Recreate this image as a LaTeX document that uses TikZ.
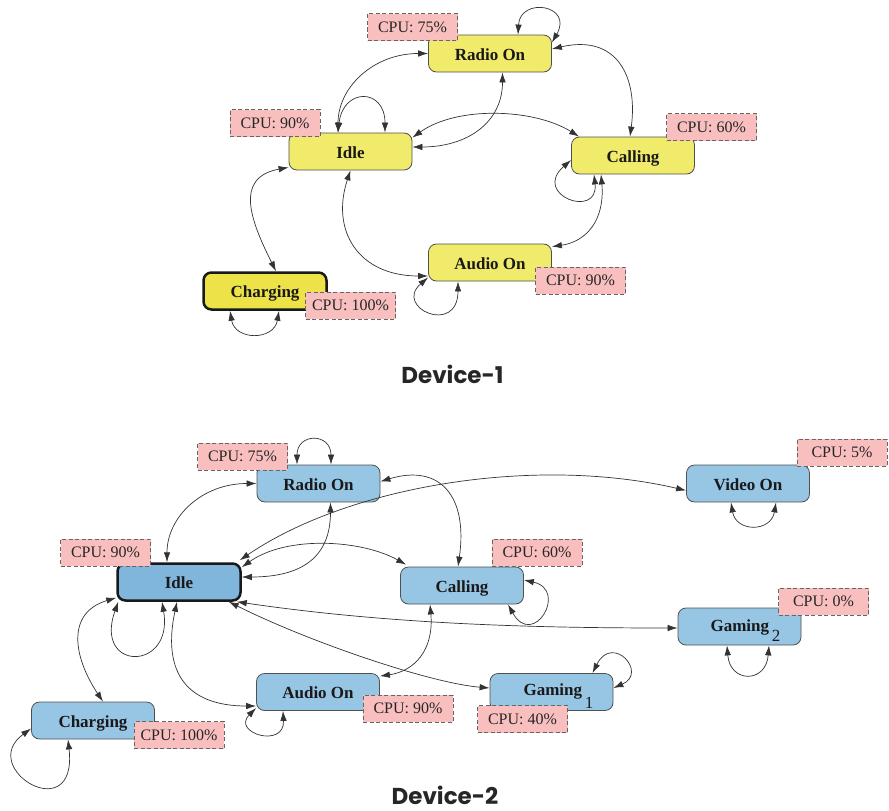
\documentclass[tikz,border=0pt]{standalone}
\usepackage{fontspec}
\setmainfont{Liberation Serif}
\newfontfamily\titlefont{Poppins}
\usetikzlibrary{arrows.meta}
\definecolor{ylw}{HTML}{F0EB6A}
\definecolor{ylwdark}{HTML}{EDE247}
\definecolor{blu}{HTML}{97C6E5}
\definecolor{bludark}{HTML}{80B5DC}
\definecolor{pnk}{HTML}{F9BFBF}
\definecolor{lblborder}{HTML}{666666}
\definecolor{nodeborder}{HTML}{505050}
\begin{document}
\begin{tikzpicture}[x=1pt,y=-1pt,
  state/.style={draw=nodeborder, line width=0.8pt, rounded corners=8pt,
    minimum width=123pt, minimum height=37pt, inner sep=0pt,
    text height=14.5pt, text depth=1.5pt,
    font=\fontsize{17}{20}\selectfont\bfseries, text=black!90},
  ystate/.style={state, fill=ylw},
  bstate/.style={state, fill=blu},
  heavy/.style={draw=black!90, line width=2.5pt},
  cpu/.style={draw=lblborder, fill=pnk, line width=0.8pt, dash pattern=on 4pt off 2.5pt,
    minimum width=90pt, minimum height=27pt, inner sep=0pt,
    font=\fontsize{16}{19}\selectfont, text=black!85},
  arr/.style={draw=black!80, line width=0.7pt,
    {Latex[length=10pt,width=6.5pt]}-{Latex[length=10pt,width=6.5pt]}},
  title/.style={font=\titlefont\bfseries\fontsize{23}{28}\selectfont, text=black!85, anchor=base}
]
\useasboundingbox (0,0) rectangle (889,811);

% ---------------- Device-1 ----------------
\node[ystate] (r1) at (490,53.5) {Radio On};
\node[ystate] (i1) at (350.5,151.5) {Idle};
\node[ystate] (c1) at (633,155.5) {Calling};
\node[ystate] (a1) at (490,262.5) {Audio On};
\node[ystate, heavy, fill=ylwdark] (ch1) at (265,291) {Charging};

\draw[arr] ([xshift=28pt]r1.north) .. controls +(2,-38) and +(22,-38) .. ([yshift=-8pt]r1.north east);
\draw[arr] (r1.west) .. controls +(-55,0) and +(0,-45) .. ([xshift=-12.5pt]i1.north);
\draw[arr] ([xshift=-12.5pt]i1.north) .. controls +(5,-45) and +(0,-45) .. ([xshift=34.5pt]i1.north);
\draw[arr] ([xshift=12.5pt]r1.south) .. controls +(0,50) and +(55,0) .. ([yshift=4.5pt]i1.east);
\draw[arr] ([yshift=-5pt]i1.north east) .. controls +(45,-32) and +(-45,-28) .. ([xshift=8pt]c1.north west);
\draw[arr] ([yshift=4.5pt]r1.east) .. controls +(65,-15) and +(8,-60) .. ([xshift=-3pt]c1.north);
\draw[arr] ([yshift=-4.5pt]c1.west) .. controls +(-40,35) and +(5,45) .. ([xshift=-39pt]c1.south);
\draw[arr] ([xshift=-32pt]c1.south) .. controls +(4,45) and +(35,-5) .. ([yshift=-3pt]a1.north east);
\draw[arr] (i1.south) .. controls +(-20,60) and +(-70,0) .. ([yshift=-13.5pt]a1.west);
\draw[arr] ([yshift=-15pt]a1.west) .. controls +(-35,30) and +(0,55) .. ([xshift=-32pt]a1.south);
\draw[arr] ([yshift=3pt]i1.south west) .. controls +(-55,10) and +(-25,-50) .. ([xshift=11pt]ch1.north);
\draw[arr] ([xshift=-35pt]ch1.south) .. controls +(5,30) and +(-5,30) .. ([xshift=14pt]ch1.south);

\node[cpu] (l1r) at (412.5,27) {CPU: 75\%};
\node[cpu] (l1i) at (275,123) {CPU: 90\%};
\node[cpu] (l1c) at (711.5,127) {CPU: 60\%};
\node[cpu] (l1a) at (580.5,280.5) {CPU: 90\%};
\node[cpu] (l1ch) at (350.5,305.5) {CPU: 100\%};

\node[title] (t1) at (452.5,383) {Device-1};

% ---------------- Device-2 ----------------
\node[bstate] (r2) at (318.5,483.5) {Radio On};
\node[bstate, heavy, fill=bludark] (i2) at (179,582) {Idle};
\node[bstate] (c2) at (462,585.5) {Calling};
\node[bstate] (v2) at (748,483.5) {Video On};
\node[bstate] (g2) at (739.5,626.5) {\hspace*{12pt}\raisebox{2pt}{Gaming}\,\raisebox{-8pt}{\mdseries 2}};
\node[bstate] (g1) at (551.5,692) {\hspace*{14pt}\raisebox{3pt}{Gaming}\,\raisebox{-10pt}{\mdseries 1}};
\node[bstate] (a2) at (318,692) {Audio On};
\node[bstate] (ch2) at (93,720.5) {Charging};

\draw[arr] ([xshift=-21.5pt]r2.north) .. controls +(0,-32) and +(0,-32) .. ([xshift=12.5pt]r2.north);
\draw[arr] (r2.west) .. controls +(-55,0) and +(0,-45) .. ([xshift=-12pt]i2.north);
\draw[arr] ([xshift=12pt]r2.south) .. controls +(0,55) and +(60,0) .. ([yshift=5pt]i2.east);
\draw[arr] ([yshift=2pt]r2.east) .. controls +(60,-18) and +(10,-70) .. ([xshift=-4pt]c2.north);
\draw[arr] ([yshift=-5pt]i2.north east) .. controls +(45,-32) and +(-45,-25) .. ([xshift=6pt,yshift=2pt]c2.north west);
\draw[arr] ([xshift=-2pt,yshift=2pt]i2.north east) .. controls +(110,-75) and +(-150,-35) .. ([yshift=-7pt]v2.west);
\draw[arr] ([yshift=5.5pt]c2.east) .. controls +(45,10) and +(25,45) .. ([xshift=46pt]c2.south);
\draw[arr] ([xshift=-17pt]v2.south) .. controls +(5,30) and +(-5,30) .. ([xshift=28pt]v2.south);
\draw[arr] ([xshift=-5pt]i2.south east) .. controls +(150,22) and +(-150,0) .. ([yshift=-1.5pt]g2.west);
\draw[arr] ([xshift=-12.5pt]g2.south) .. controls +(3,38) and +(-3,38) .. ([xshift=29.5pt]g2.south);
\draw[arr] ([xshift=-13pt]i2.south east) .. controls +(80,40) and +(-60,-5) .. ([yshift=4pt]g1.west);
\draw[arr] ([xshift=41pt]g1.north) .. controls +(20,-40) and +(35,-15) .. ([yshift=4pt]g1.east);
\draw[arr] ([xshift=-2pt]i2.south) .. controls +(-15,70) and +(-70,0) .. ([yshift=-14pt]a2.west);
\draw[arr] ([yshift=-16pt]a2.west) .. controls +(-25,25) and +(2,38) .. ([xshift=-35pt]a2.south);
\draw[arr] ([xshift=2pt]i2.south west) .. controls +(-25,70) and +(12,70) .. ([xshift=-17pt]i2.south);
\draw[arr] ([yshift=4pt]i2.south west) .. controls +(-50,15) and +(-30,-45) .. ([xshift=10pt]ch2.north);
\draw[arr] ([xshift=-32pt]c2.south) .. controls +(4,45) and +(35,-5) .. ([yshift=-3pt]a2.north east);
\draw[arr] ([yshift=-8pt]ch2.west) .. controls +(-55,40) and +(10,90) .. ([xshift=-25pt]ch2.south);

\node[cpu] (l2r) at (242.5,456.5) {CPU: 75\%};
\node[cpu] (l2i) at (105.5,552.5) {CPU: 90\%};
\node[cpu] (l2c) at (537,552.5) {CPU: 60\%};
\node[cpu] (l2v) at (842,452.5) {CPU: 5\%};
\node[cpu] (l2g2) at (823.5,601.5) {CPU: 0\%};
\node[cpu] (l2ch) at (179,735) {CPU: 100\%};
\node[cpu] (l2a) at (408,708.5) {CPU: 90\%};
\node[cpu] (l2g1) at (522.5,719) {CPU: 40\%};

\node[title] (t2) at (445,804) {Device-2};
\end{tikzpicture}
\end{document}
